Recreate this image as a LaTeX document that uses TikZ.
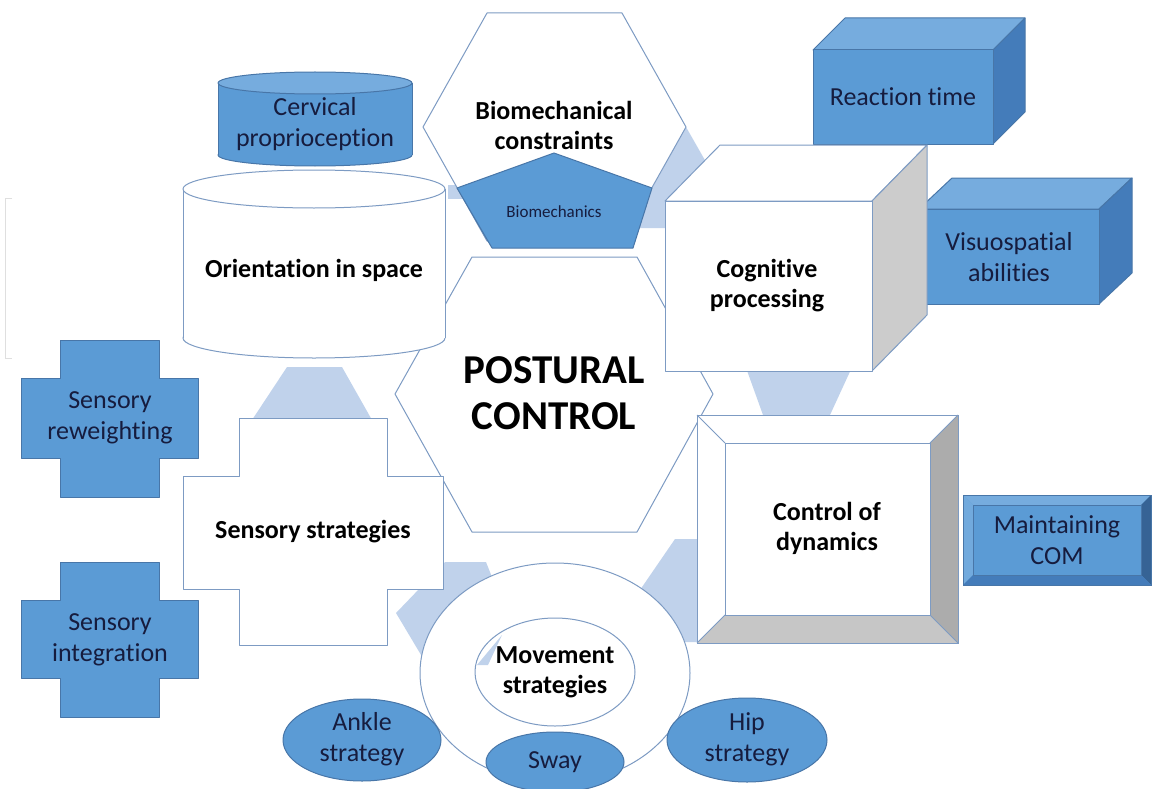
\documentclass[tikz,border=0pt]{standalone}
\usepackage{fontspec}
\setmainfont[Ligatures={NoCommon}]{Carlito}
\definecolor{boxblue}{RGB}{91,155,213}
\definecolor{topblue}{RGB}{118,172,222}
\definecolor{sideblue}{RGB}{68,124,186}
\definecolor{linkblue}{RGB}{192,210,235}
\definecolor{edgeblue}{RGB}{72,118,168}
\definecolor{paleedge}{RGB}{125,155,195}
\definecolor{navy}{RGB}{22,28,62}
\tikzset{
  whiteshape/.style={draw=paleedge, fill=white, line width=1pt, line join=round},
  blueshape/.style={draw=edgeblue, fill=boxblue, line width=1pt, line join=round},
  linkpiece/.style={fill=linkblue},
  boldlabel/.style={font=\fontsize{26}{30}\selectfont\bfseries, align=center, text=black},
  bluelabel/.style={font=\fontsize{26}{31}\selectfont, align=center, text=navy}
}
\begin{document}
\begin{tikzpicture}[x=1pt,y=-1pt]
\useasboundingbox (0,0) rectangle (1161,789);
\draw[gray!25, line width=1pt] (12,198) -- (5,198) -- (5,358) -- (12,358);

% light pieces behind
\fill[linkpiece] (287,367) -- (342,367) -- (372,420) -- (252,420) -- cycle;
\fill[linkpiece] (745,365) -- (853,365) -- (830,415) -- (763,415) -- cycle;
\fill[linkpiece] (686,127) -- (706,162) -- (669,228) -- (630,228) -- cycle;
\fill[linkpiece] (675,539) -- (705,539) -- (705,642) -- (675,642) -- (640,590) -- cycle;
\fill[linkpiece] (445,562) -- (486,562) -- (505,610) -- (430,670) -- (396,613) -- cycle;
\fill[linkpiece] (448,185) -- (472,185) -- (472,199) -- (448,199) -- cycle;

% hexagons
\draw[whiteshape] (487,13) -- (622,13) -- (686,127) -- (622,241) -- (487,241) -- (423,127) -- cycle;
\draw[blueshape] (554,153) -- (652,188) -- (633,248) -- (492,248) -- (457,188) -- cycle;
\node[boldlabel] (bio) at (554,125) {Biomechanical\\constraints};
\node[font=\fontsize{17}{20}\selectfont, text=navy] (biomech) at (554,212) {Biomechanics};

\draw[whiteshape] (472,257) -- (637,257) -- (713,394) -- (637,532) -- (472,532) -- (395,394) -- cycle;
\node[font=\fontsize{41}{46}\selectfont\bfseries, align=center] (posture) at (554,393) {POSTURAL\\CONTROL};

% cylinders
\draw[blueshape] (315,155) ellipse [x radius=97, y radius=11];
\fill[boxblue] (218,83) rectangle (412,155);
\draw[edgeblue, line width=1pt] (218,83) -- (218,155) (412,83) -- (412,155);
\draw[blueshape, fill=topblue] (315,83) ellipse [x radius=97, y radius=11];
\node[bluelabel] (cervical) at (315,124) {Cervical\\proprioception};

\draw[whiteshape] (314,338) ellipse [x radius=131, y radius=20];
\fill[white] (183,189) rectangle (445,338);
\draw[paleedge, line width=1pt] (183,189) -- (183,338) (445,189) -- (445,338);
\draw[whiteshape] (314,189) ellipse [x radius=131, y radius=19];
\node[boldlabel] (orient) at (314,270) {Orientation in space};

% crosses
\draw[blueshape] (60,340) -- (159,340) -- (159,378) -- (198,378) -- (198,458) -- (159,458) -- (159,497) -- (60,497) -- (60,458) -- (21,458) -- (21,378) -- (60,378) -- cycle;
\node[bluelabel] (reweight) at (110,418) {Sensory\\reweighting};
\draw[blueshape] (60,562) -- (159,562) -- (159,600) -- (198,600) -- (198,678) -- (159,678) -- (159,717) -- (60,717) -- (60,678) -- (21,678) -- (21,600) -- (60,600) -- cycle;
\node[bluelabel] (integr) at (110,640) {Sensory\\integration};
\draw[whiteshape] (239,418) -- (387,418) -- (387,476) -- (443,476) -- (443,589) -- (387,589) -- (387,645) -- (239,645) -- (239,589) -- (183,589) -- (183,476) -- (239,476) -- cycle;
\node[boldlabel] (strat) at (313,532) {Sensory strategies};

% cubes
\draw[blueshape, fill=topblue] (813,50) -- (845,18) -- (1025,18) -- (993,50) -- cycle;
\draw[blueshape, fill=sideblue] (993,50) -- (1025,18) -- (1025,112) -- (993,144) -- cycle;
\draw[blueshape] (813,50) rectangle (993,144);
\node[bluelabel] (reaction) at (903,97) {Reaction time};

\draw[blueshape, fill=topblue] (919,209) -- (952,178) -- (1132,178) -- (1099,209) -- cycle;
\draw[blueshape, fill=sideblue] (1099,209) -- (1132,178) -- (1132,273) -- (1099,304) -- cycle;
\draw[blueshape] (919,209) rectangle (1099,304);
\node[bluelabel] (visuo) at (1009,257) {Visuospatial\\abilities};

\draw[whiteshape] (665,201) -- (720,145) -- (927,145) -- (872,201) -- cycle;
\draw[whiteshape, fill=gray!40] (872,201) -- (927,145) -- (927,315) -- (872,371) -- cycle;
\draw[whiteshape] (665,201) rectangle (872,371);
\node[boldlabel] (cognitive) at (767,286) {Cognitive\\processing};

% bevelled boxes
\draw[whiteshape] (697,415) rectangle (958,643);
\fill[gray!65] (958,415) -- (958,643) -- (930,615) -- (930,443) -- cycle;
\fill[gray!45] (697,643) -- (958,643) -- (930,615) -- (725,615) -- cycle;
\draw[paleedge, line width=1pt] (697,415) -- (725,443) (958,415) -- (930,443) (958,643) -- (930,615) (697,643) -- (725,615);
\draw[paleedge, line width=1pt] (725,443) rectangle (930,615);
\draw[paleedge, line width=1pt] (697,415) rectangle (958,643);
\node[boldlabel] (control) at (827,528) {Control of\\dynamics};

\fill[boxblue] (963,495) rectangle (1151,585);
\fill[topblue] (963,495) -- (1151,495) -- (1141,505) -- (973,505) -- cycle;
\fill[topblue!85!boxblue] (963,495) -- (973,505) -- (973,575) -- (963,585) -- cycle;
\fill[sideblue!80!black] (1151,495) -- (1151,585) -- (1141,575) -- (1141,505) -- cycle;
\fill[sideblue] (963,585) -- (1151,585) -- (1141,575) -- (973,575) -- cycle;
\draw[edgeblue, line width=0.8pt] (973,505) rectangle (1141,575);
\draw[edgeblue, line width=1pt] (963,495) rectangle (1151,585);
\node[bluelabel] (maintain) at (1057,540) {Maintaining\\COM};

% movement strategies
\draw[whiteshape] (555,673) ellipse [x radius=135, y radius=110];
\fill[white] (555,672) ellipse [x radius=80, y radius=54];
\fill[linkpiece] (502,635) -- (488,665) -- (477,665) -- cycle;
\draw[paleedge, line width=1pt] (555,672) ellipse [x radius=80, y radius=54];
\node[boldlabel] (movement) at (555,672) {Movement\\strategies};

\draw[blueshape] (362,740) ellipse [x radius=79, y radius=41];
\node[bluelabel] (ankle) at (362,739) {Ankle\\strategy};
\draw[blueshape] (555,762) ellipse [x radius=69, y radius=30];
\node[bluelabel] (sway) at (555,762) {Sway};
\draw[blueshape] (747,740) ellipse [x radius=80, y radius=42];
\node[bluelabel] (hip) at (747,739) {Hip\\strategy};
\end{tikzpicture}
\end{document}
